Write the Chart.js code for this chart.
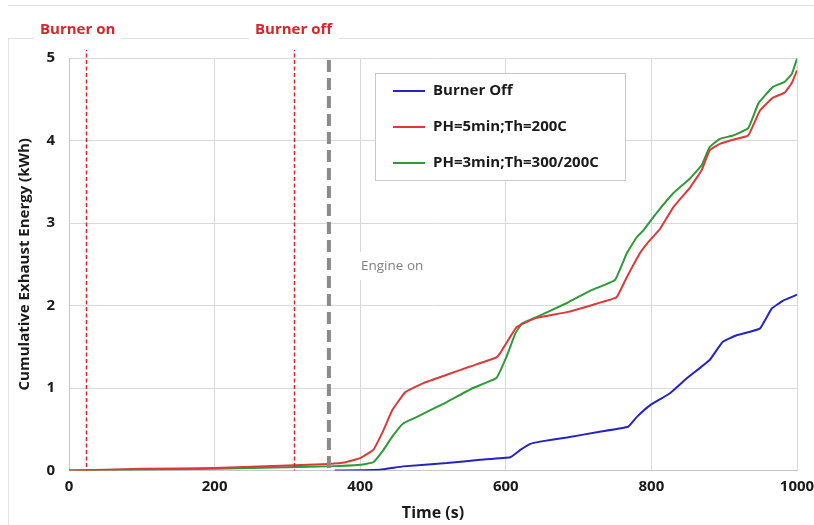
<!DOCTYPE html>
<html lang="en">
<head>
  <meta charset="UTF-8">
  <title>Cumulative Exhaust Energy</title>
  <script src="https://cdn.jsdelivr.net/npm/chart.js"></script>
  <style>
    html, body { margin: 0; padding: 0; background: #fff; }
    #wrap { position: relative; width: 814px; height: 525px; }
  </style>
</head>
<body>
  <div id="wrap"><canvas id="energyChart" width="814" height="525"></canvas></div>

<script>
  // data: [time (s), energy (kWh)]
  const burnerOff = [[365, 0], [427, 0.01], [459, 0.05], [519, 0.09], [565, 0.13], [606, 0.16], [620, 0.25],
    [633, 0.32], [647, 0.35], [684, 0.40], [729, 0.47], [768, 0.53], [780, 0.65], [798, 0.79], [826, 0.94],
    [849, 1.12], [880, 1.34], [898, 1.56], [917, 1.64], [949, 1.72], [965, 1.96], [981, 2.06], [1000, 2.13]];
  const ph5 = [[0, 0], [100, 0.02], [200, 0.03], [300, 0.06], [357, 0.08], [380, 0.10], [400, 0.15], [418, 0.25],
    [432, 0.49], [444, 0.73], [462, 0.95], [487, 1.06], [519, 1.16], [551, 1.26], [587, 1.37], [592, 1.42],
    [606, 1.62], [615, 1.74], [642, 1.85], [684, 1.92], [720, 2.01], [752, 2.10], [766, 2.34], [784, 2.63],
    [794, 2.75], [812, 2.93], [830, 3.19], [853, 3.43], [869, 3.64], [880, 3.88], [894, 3.96], [912, 4.01],
    [933, 4.06], [949, 4.36], [967, 4.52], [983, 4.58], [993, 4.70], [1000, 4.85]];
  const ph3 = [[0, 0], [200, 0.02], [300, 0.04], [357, 0.05], [400, 0.07], [418, 0.10], [432, 0.25], [444, 0.41],
    [459, 0.57], [478, 0.65], [519, 0.83], [555, 1.00], [587, 1.12], [601, 1.38], [613, 1.66], [622, 1.78],
    [642, 1.86], [684, 2.03], [716, 2.18], [750, 2.31], [766, 2.63], [780, 2.83], [789, 2.91], [807, 3.12],
    [830, 3.36], [853, 3.54], [869, 3.70], [880, 3.92], [894, 4.02], [912, 4.06], [933, 4.15], [947, 4.45],
    [967, 4.65], [983, 4.71], [993, 4.81], [1000, 4.99]];

  const seriesNames = ['Burner Off', 'PH=5min;Th=200C', 'PH=3min;Th=300/200C'];
  const seriesColors = ['#2424c4', '#dc3a3a', '#2f9a36'];

  const xTicks = [0, 200, 400, 600, 800, 1000];
  const yTicks = [0, 1, 2, 3, 4, 5];

  // event markers (s)
  const burnerOnTime = 23;
  const burnerOffTime = 309;
  const engineOnTime = 357;

  const font = '"Open Sans", "DejaVu Sans", sans-serif';

  function toPoints(arr) {
    return arr.map(p => ({ x: p[0], y: p[1] }));
  }

  // frame, event lines, labels and legend
  const overlay = {
    id: 'overlay',
    beforeDraw(chart) {
      const c = chart.ctx;
      c.save();
      c.strokeStyle = '#e2e2e2';
      c.lineWidth = 1;
      c.beginPath();
      c.moveTo(8, 5.5); c.lineTo(814, 5.5);
      c.moveTo(8, 38.5); c.lineTo(814, 38.5);
      c.moveTo(8.5, 38); c.lineTo(8.5, 525);
      c.stroke();
      c.restore();
    },
    afterDatasetsDraw(chart) {
      const c = chart.ctx;
      const xs = chart.scales.x;
      const bottom = chart.chartArea.bottom;
      c.save();

      // burner lines
      c.strokeStyle = '#d8242c';
      c.lineWidth = 1.5;
      c.setLineDash([4, 2.5]);
      [burnerOnTime, burnerOffTime].forEach(t => {
        const px = Math.round(xs.getPixelForValue(t)) + 0.5;
        c.beginPath();
        c.moveTo(px, 47);
        c.lineTo(px, bottom);
        c.stroke();
      });

      // engine line
      c.strokeStyle = '#8a8a8a';
      c.lineWidth = 4;
      c.setLineDash([12, 6]);
      const ex = xs.getPixelForValue(engineOnTime);
      c.beginPath();
      c.moveTo(ex, 60);
      c.lineTo(ex, bottom);
      c.stroke();
      c.setLineDash([]);

      // labels on the frame
      c.font = 'bold 15px ' + font;
      c.textBaseline = 'middle';
      c.textAlign = 'left';
      [['Burner on', 40], ['Burner off', 255]].forEach(([txt, x]) => {
        const w = c.measureText(txt).width;
        c.fillStyle = '#fff';
        c.fillRect(x - 6, 26, w + 12, 24);
        c.fillStyle = '#d8242c';
        c.fillText(txt, x, 30);
      });

      // engine on label
      c.font = '13.5px ' + font;
      const ew = c.measureText('Engine on').width;
      c.fillStyle = '#fff';
      c.fillRect(356, 252, ew + 8, 28);
      c.fillStyle = '#808080';
      c.fillText('Engine on', 361, 266);

      // legend box
      c.font = 'bold 15px ' + font;
      const lx = 375, ly = 73, lw = 250, lh = 107;
      c.fillStyle = '#fff';
      c.fillRect(lx, ly, lw, lh);
      c.strokeStyle = '#c8c8c8';
      c.lineWidth = 1;
      c.strokeRect(lx + 0.5, ly + 0.5, lw, lh);
      seriesNames.forEach((name, i) => {
        const yy = 91 + i * 36;
        c.strokeStyle = seriesColors[i];
        c.lineWidth = 2;
        c.beginPath();
        c.moveTo(393, yy);
        c.lineTo(425, yy);
        c.stroke();
        c.fillStyle = '#1a1a1a';
        c.fillText(name, 433, yy);
      });
      c.restore();
    }
  };

  const lineStyle = {
    borderWidth: 2,
    pointRadius: 0,
    fill: false,
    tension: 0.1
  };

  new Chart(document.getElementById('energyChart'), {
    type: 'line',
    data: {
      datasets: [
        Object.assign({ label: seriesNames[0], data: toPoints(burnerOff), borderColor: seriesColors[0] }, lineStyle),
        Object.assign({ label: seriesNames[1], data: toPoints(ph5), borderColor: seriesColors[1] }, lineStyle),
        Object.assign({ label: seriesNames[2], data: toPoints(ph3), borderColor: seriesColors[2] }, lineStyle)
      ]
    },
    options: {
      responsive: false,
      animation: false,
      layout: { padding: { top: 58, right: 17, left: 16, bottom: 0 } },
      plugins: {
        legend: { display: false },
        tooltip: { enabled: false }
      },
      scales: {
        x: {
          type: 'linear',
          min: 0,
          max: 1000,
          afterBuildTicks: axis => { axis.ticks = xTicks.map(v => ({ value: v })); },
          afterFit: axis => {
            axis.height = 54.5;
            axis.paddingLeft = 0;
            axis.paddingRight = 0;
          },
          grid: { color: '#d9d9d9', drawTicks: false },
          border: { color: '#c8c8c8' },
          ticks: {
            color: '#1a1a1a', padding: 7, font: { family: font, size: 15, weight: 'bold' },
            callback: v => String(v)
          },
          title: {
            display: true, text: 'Time (s)', color: '#1a1a1a', padding: { top: 0, bottom: 2 },
            font: { family: font, size: 16, weight: 'bold' }
          }
        },
        y: {
          min: 0,
          max: 5,
          afterBuildTicks: axis => { axis.ticks = yTicks.map(v => ({ value: v })); },
          afterFit: axis => { axis.width = 53; },
          grid: { color: '#d9d9d9', drawTicks: false },
          border: { color: '#c8c8c8' },
          ticks: { color: '#1a1a1a', padding: 14, font: { family: font, size: 15, weight: 'bold' } },
          title: {
            display: true, text: 'Cumulative Exhaust Energy (kWh)', color: '#1a1a1a', padding: { top: 0, bottom: 0 },
            font: { family: font, size: 15, weight: 'bold' }
          }
        }
      }
    },
    plugins: [overlay]
  });
</script>
</body>
</html>
